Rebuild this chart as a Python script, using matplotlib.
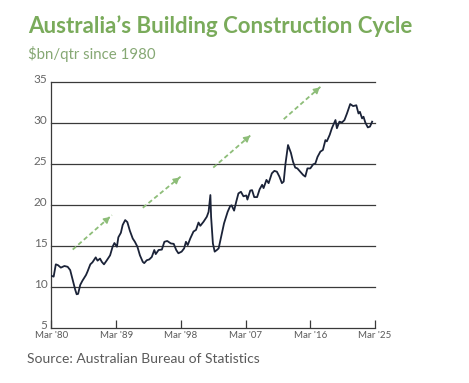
import matplotlib
matplotlib.use("Agg")
import matplotlib.pyplot as plt
import matplotlib.transforms as mtransforms

# quarterly building construction work done, $bn/qtr
years = [1980.0, 1980.3, 1980.6, 1980.9, 1981.3, 1981.8, 1982.25, 1982.6, 1982.95, 1983.3,
         1983.5, 1983.7, 1984.0, 1984.3, 1984.8, 1985.0, 1985.4, 1985.7, 1986.15, 1986.4,
         1986.75, 1987.0, 1987.3, 1987.7, 1988.15, 1988.5, 1988.75, 1989.1, 1989.3, 1989.65,
         1989.9, 1990.25, 1990.55, 1990.9, 1991.3, 1991.6, 1991.95, 1992.3, 1992.7, 1992.9,
         1993.25, 1993.6, 1993.95, 1994.3, 1994.5, 1994.9, 1995.35, 1995.7, 1996.1, 1996.6,
         1997.0, 1997.35, 1997.65, 1998.1, 1998.45, 1998.7, 1998.95, 1999.3, 1999.75, 2000.1,
         2000.45, 2000.7, 2001.15, 2001.6, 2001.85, 2002.1, 2002.2, 2002.45, 2002.7, 2003.0,
         2003.25, 2003.6, 2004.0, 2004.5, 2004.85, 2005.05, 2005.4, 2005.7, 2006.0, 2006.35,
         2006.7, 2007.1, 2007.25, 2007.65, 2007.9, 2008.2, 2008.6, 2008.95, 2009.3, 2009.5,
         2009.9, 2010.2, 2010.65, 2011.0, 2011.35, 2011.7, 2012.05, 2012.3, 2012.55, 2012.9,
         2013.3, 2013.6, 2013.9, 2014.2, 2014.6, 2015.0, 2015.3, 2015.6, 2016.0, 2016.4,
         2016.7, 2017.0, 2017.4, 2017.75, 2018.1, 2018.3, 2018.7, 2019.0, 2019.5, 2019.7,
         2020.05, 2020.4, 2020.75, 2021.1, 2021.55, 2021.95, 2022.4, 2022.7, 2022.9, 2023.2,
         2023.4, 2023.65, 2024.0, 2024.3, 2024.6]
values = [11.4, 11.3, 12.8, 12.7, 12.4, 12.6, 12.5, 12.1, 10.9, 9.7,
          9.15, 9.2, 10.3, 10.8, 11.5, 11.9, 12.8, 13.05, 13.65, 13.25,
          13.5, 13.1, 12.8, 13.3, 13.9, 14.95, 15.4, 14.95, 16.1, 16.65,
          17.6, 18.2, 17.95, 16.9, 15.95, 15.55, 14.95, 13.9, 13.1, 12.95,
          13.3, 13.4, 13.7, 14.55, 14.05, 14.55, 14.6, 15.55, 15.65, 15.35,
          15.3, 14.55, 14.15, 14.35, 14.75, 15.55, 15.15, 15.95, 16.8, 17.0,
          17.9, 17.5, 18.0, 18.6, 19.2, 21.25, 18.6, 15.35, 14.35, 14.55,
          14.75, 16.2, 17.8, 19.2, 19.9, 20.0, 19.35, 20.45, 21.45, 21.65,
          21.1, 21.2, 20.7, 21.8, 21.85, 21.0, 21.0, 21.95, 22.5, 22.1,
          23.1, 22.7, 23.9, 24.2, 24.1, 23.5, 22.7, 22.9, 25.1, 27.35,
          26.4, 25.3, 24.6, 24.5, 24.1, 23.7, 23.5, 24.5, 24.5, 25.0,
          25.1, 25.9, 26.55, 26.75, 27.95, 27.8, 28.6, 29.4, 30.4, 29.4,
          30.2, 30.1, 30.4, 31.2, 32.35, 32.1, 32.2, 31.2, 31.4, 30.6,
          30.8, 30.1, 29.5, 29.6, 30.2]

# dashed "cycle" arrows
arrow_x0 = [1982.95, 1992.7, 2002.5, 2012.3]
arrow_y0 = [14.6, 19.7, 24.6, 30.5]
arrow_x1 = [1988.4, 1998.1, 2007.9, 2017.6]
arrow_y1 = [18.8, 23.6, 28.7, 34.6]

tick_years = [1980, 1989, 1998, 2007, 2016, 2025]
tick_labels = ["Mar '80", "Mar '89", "Mar '98", "Mar '07", "Mar '16", "Mar '25"]
y_ticks = [5, 10, 15, 20, 25, 30, 35]

green = "#7aab5b"
arrow_green = "#8dbd78"
navy = "#1b2338"
grey = "#5a5a5a"

fig = plt.figure(figsize=(4.69, 3.83), dpi=100)
ax = fig.add_axes([0.1098, 0.1428, 0.6898, 0.6423])

for y in y_ticks[1:]:
    ax.axhline(y, color="#3a3a3a", lw=0.9, zorder=1, clip_on=False)

ax.plot(years, values, color=navy, lw=1.3, zorder=3)

for x0, y0, x1, y1 in zip(arrow_x0, arrow_y0, arrow_x1, arrow_y1):
    ax.plot([x0, x1], [y0, y1], color=arrow_green, lw=1.3, ls=(0, (2.5, 1.6)), zorder=2)
    ax.annotate("", xy=(x1, y1), xytext=(x1 - (x1 - x0) * 0.12, y1 - (y1 - y0) * 0.12),
                arrowprops=dict(arrowstyle="-|>,head_length=0.35,head_width=0.2",
                                color=arrow_green, lw=1.0), zorder=2)

ax.set_xlim(1980, 2025)
ax.set_ylim(5, 35)
ax.set_xticks(tick_years)
ax.set_xticklabels(tick_labels)
ax.set_yticks(y_ticks)

for s in ["top", "right"]:
    ax.spines[s].set_visible(False)
for s in ["left", "bottom"]:
    ax.spines[s].set_color("#3a3a3a")
    ax.spines[s].set_linewidth(0.9)

ax.tick_params(axis="x", direction="in", length=6, width=0.9, color="#3a3a3a",
               labelsize=7, labelcolor=grey, pad=2)
ax.tick_params(axis="y", length=0, labelsize=8.5, labelcolor="#666666", pad=3)
for lab in ax.get_xticklabels():
    lab.set_family("Lato")
# nudge the y labels up a little, as in the original
up = mtransforms.ScaledTranslation(0, 2.5 / 72, fig.dpi_scale_trans)
for lab in ax.get_yticklabels():
    lab.set_family("Lato")
    lab.set_transform(lab.get_transform() + up)

fig.text(0.06, 0.913, "Australia\u2019s Building Construction Cycle", family="Lato",
         weight="bold", fontsize=16, color=green, va="baseline")
fig.text(0.06, 0.846, "$bn/qtr since 1980", family="Lato", fontsize=10.8,
         color="#86a874", va="baseline")
fig.text(0.058, 0.051, "Source: Australian Bureau of Statistics", family="Lato",
         fontsize=10, color=grey, va="baseline")

fig.savefig("out.png", dpi=100, facecolor="white")
